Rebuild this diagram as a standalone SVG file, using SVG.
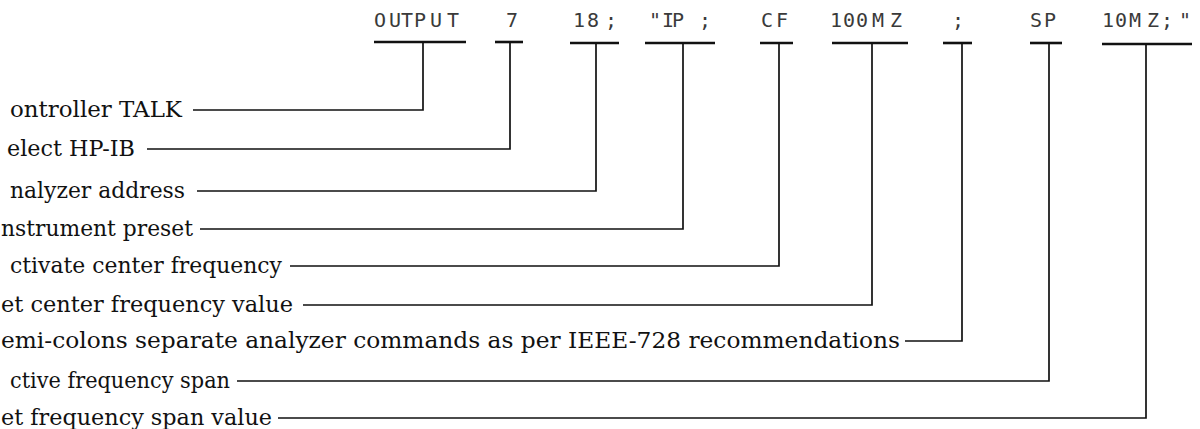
<svg xmlns="http://www.w3.org/2000/svg" width="1200" height="429" viewBox="0 0 1200 429">
<style>
.code{font-family:"DejaVu Sans Mono","Liberation Mono",monospace;font-size:20px;fill:#3a3a3a}
.lbl{font-family:"DejaVu Serif","Liberation Serif",serif;font-size:23px;fill:#111}
.ul{stroke:#111;stroke-width:2.6;fill:none}
.ln{stroke:#111;stroke-width:1.7;fill:none;stroke-linejoin:miter}
</style>
<rect width="1200" height="429" fill="#fff"/>
<g id="code">
<text class="code" x="374 389 401 414 430 447" y="27">OUTPUT</text>
<text class="code" x="506" y="27">7</text>
<text class="code" x="573 587 605" y="27">18;</text>
<text class="code" x="649 662 672 699" y="27">"IP;</text>
<text class="code" x="761 776" y="27">CF</text>
<text class="code" x="830 843 856 872 890" y="27">100MZ</text>
<text class="code" x="952" y="27">;</text>
<text class="code" x="1030 1044" y="27">SP</text>
<text class="code" x="1102 1115 1129 1147 1161 1179" y="27">10MZ;"</text>
</g>
<g id="underlines">
<line class="ul" x1="374" y1="42" x2="466" y2="42"/>
<line class="ul" x1="495" y1="42" x2="523" y2="42"/>
<line class="ul" x1="570" y1="43" x2="619" y2="43"/>
<line class="ul" x1="645" y1="43" x2="715" y2="43"/>
<line class="ul" x1="760" y1="43" x2="793" y2="43"/>
<line class="ul" x1="832" y1="43" x2="908" y2="43"/>
<line class="ul" x1="943" y1="43" x2="972" y2="43"/>
<line class="ul" x1="1030" y1="43" x2="1062" y2="43"/>
<line class="ul" x1="1102" y1="44" x2="1192" y2="44"/>
</g>
<g id="labels">
<g id="n1"><text class="lbl" x="10" y="117" textLength="172" lengthAdjust="spacingAndGlyphs">ontroller TALK</text></g>
<g id="n2"><text class="lbl" x="7" y="156" textLength="128" lengthAdjust="spacingAndGlyphs">elect HP-IB</text></g>
<g id="n3"><text class="lbl" x="10" y="198" textLength="175" lengthAdjust="spacingAndGlyphs">nalyzer address</text></g>
<g id="n4"><text class="lbl" x="1" y="236" textLength="192" lengthAdjust="spacingAndGlyphs">nstrument preset</text></g>
<g id="n5"><text class="lbl" x="10" y="273" textLength="272" lengthAdjust="spacingAndGlyphs">ctivate center frequency</text></g>
<g id="n6"><text class="lbl" x="1" y="312" textLength="292" lengthAdjust="spacingAndGlyphs">et center frequency value</text></g>
<g id="n7"><text class="lbl" x="1" y="348" textLength="899" lengthAdjust="spacingAndGlyphs">emi-colons separate analyzer commands as per IEEE-728 recommendations</text></g>
<g id="n8"><text class="lbl" x="10" y="388" textLength="220" lengthAdjust="spacingAndGlyphs">ctive frequency span</text></g>
<g id="n9"><text class="lbl" x="1" y="425" textLength="271" lengthAdjust="spacingAndGlyphs">et frequency span value</text></g>
</g>
<g id="connectors">
<polyline class="ln" points="193,110 423,110 423,42"/>
<polyline class="ln" points="147,149 510,149 510,42"/>
<polyline class="ln" points="197,191 596,191 596,43"/>
<polyline class="ln" points="200,229 683,229 683,43"/>
<polyline class="ln" points="290,266 779,266 779,43"/>
<polyline class="ln" points="303,305 872,305 872,43"/>
<polyline class="ln" points="905,341 962,341 962,43"/>
<polyline class="ln" points="237,381 1049,381 1049,43"/>
<polyline class="ln" points="278,418 1146,418 1146,44"/>
</g>
</svg>
